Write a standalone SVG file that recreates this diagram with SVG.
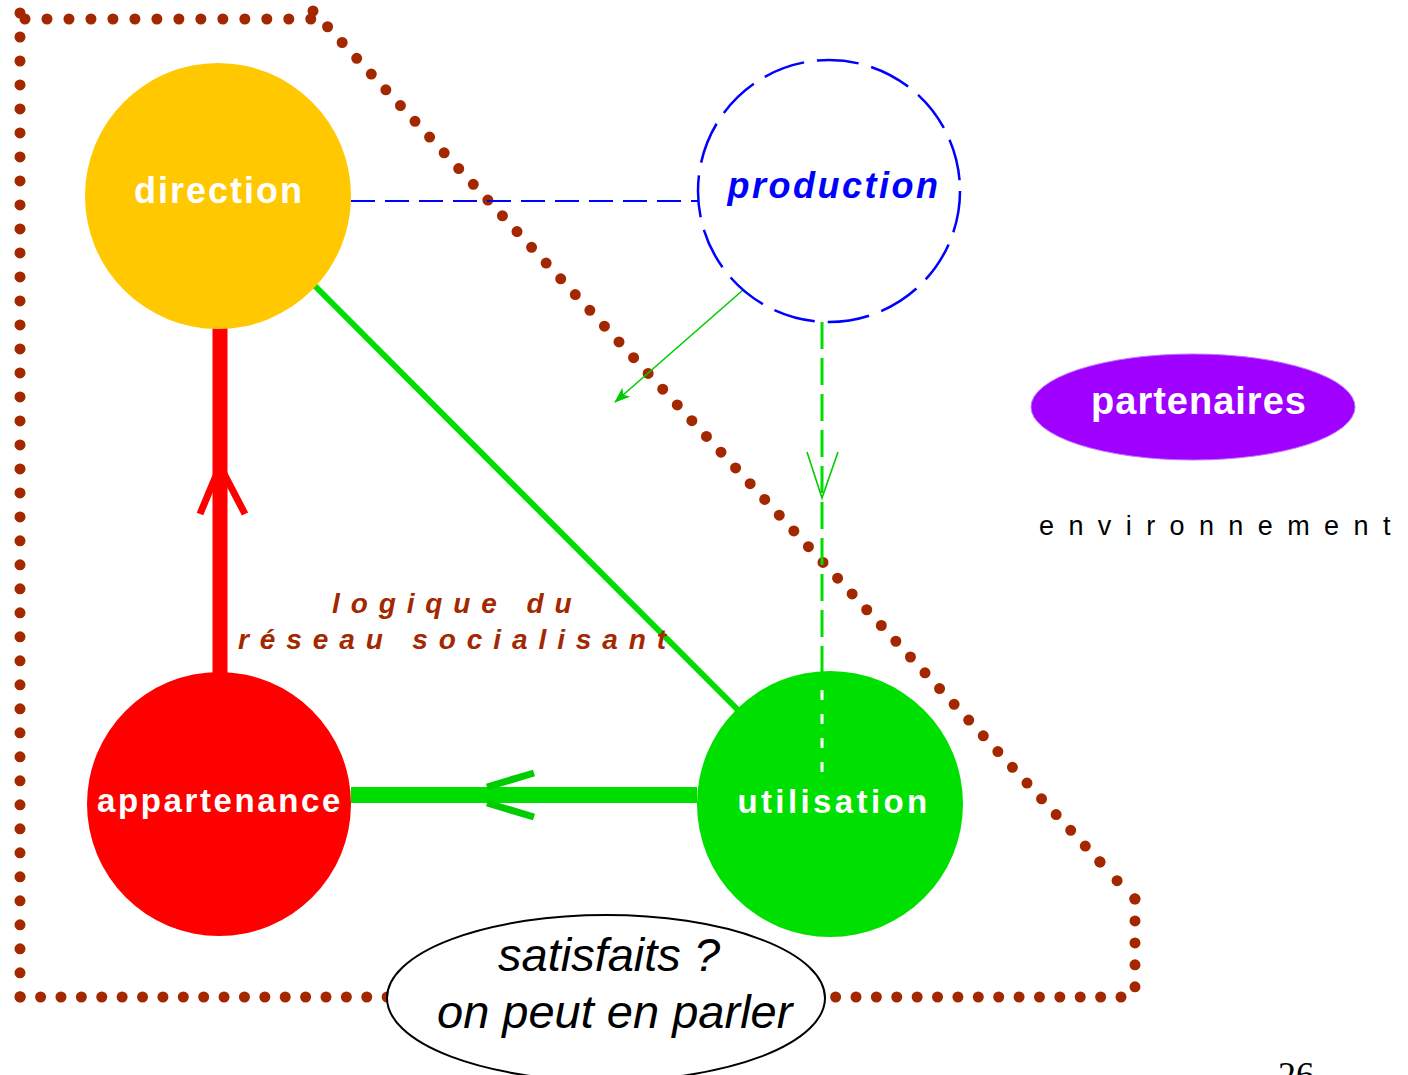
<svg xmlns="http://www.w3.org/2000/svg" width="1408" height="1075" viewBox="0 0 1408 1075">
<style>
.dot{fill:none;stroke:#a32800;stroke-width:11;stroke-linecap:round;stroke-dasharray:0 1}
.lbl{font-family:"Liberation Sans",Arial,sans-serif;font-weight:bold;fill:#fff;text-anchor:middle}
.brown{font-family:"Liberation Sans",Arial,sans-serif;font-weight:bold;font-style:italic;fill:#a32800;font-size:28px;letter-spacing:10.9px}
.ital{font-family:"Liberation Sans",Arial,sans-serif;font-style:italic;fill:#000;font-size:47px}
</style>
<defs>
<marker id="fill-arrow" markerWidth="16" markerHeight="12" refX="15" refY="6" orient="auto" markerUnits="userSpaceOnUse">
<path d="M0,0 L16,6 L0,12 L4,6 Z" fill="#00cc00"/>
</marker>
</defs>
<rect width="1408" height="1075" fill="#fff"/>
<g id="border">
<path class="dot" pathLength="41.01" d="M20,13 V997"/>
<path class="dot" pathLength="13.01" d="M25,19 H311"/>
<path class="dot" pathLength="54.01" d="M313,11 L1100,862"/>
<path class="dot" pathLength="2.01" d="M1100,862 L1121,885 L1135,899"/>
<path class="dot" pathLength="4.01" d="M1135,899 V987"/>
<path class="dot" pathLength="54.01" d="M1121,997 H20"/>
</g>
<g id="connectors">
<line x1="351" y1="201" x2="699" y2="201" stroke="#0000ff" stroke-width="2.2" stroke-dasharray="24 10"/>
<line x1="315" y1="286" x2="740" y2="712" stroke="#00dd00" stroke-width="6"/>
<line x1="220" y1="328" x2="220" y2="673" stroke="#ff0000" stroke-width="15"/>
<polyline points="200,514 220,466 245,514" fill="none" stroke="#ff0000" stroke-width="7"/>
<line x1="351" y1="795" x2="697" y2="795" stroke="#00dd00" stroke-width="16"/>
<line x1="487" y1="787" x2="534" y2="773" stroke="#00cc00" stroke-width="7"/>
<line x1="487" y1="803" x2="534" y2="817" stroke="#00cc00" stroke-width="7"/>
<line x1="743" y1="290" x2="615" y2="402" stroke="#00cc00" stroke-width="1.6" marker-end="url(#fill-arrow)"/>
<line x1="822" y1="322" x2="822" y2="690" stroke="#00dd00" stroke-width="3" stroke-dasharray="27 9"/>
<polyline points="807,452 822,498 838,452" fill="none" stroke="#00cc00" stroke-width="1.6"/>
</g>
<g id="direction">
<circle cx="218" cy="196" r="133" fill="#ffc800"/>
<text class="lbl" x="219" y="203" font-size="36" letter-spacing="2">direction</text>
</g>
<g id="production">
<circle cx="829" cy="191" r="131" fill="none" stroke="#0000ff" stroke-width="2.5" stroke-dasharray="42 13"/>
<text x="834" y="198" font-family="Liberation Sans, Arial, sans-serif" font-weight="bold" font-style="italic" font-size="36" letter-spacing="2.5" fill="#0000ff" text-anchor="middle">production</text>
</g>
<g id="appartenance">
<circle cx="219" cy="804" r="132" fill="#ff0000"/>
<text class="lbl" x="220" y="812" font-size="33" letter-spacing="2.6">appartenance</text>
</g>
<g id="utilisation">
<circle cx="830" cy="804" r="133" fill="#00e000"/>
<line x1="822" y1="690" x2="822" y2="772" stroke="#fff" stroke-width="3" stroke-dasharray="10 14"/>
<text class="lbl" x="834" y="813" font-size="33" letter-spacing="3.4">utilisation</text>
</g>
<g id="partenaires">
<ellipse cx="1193" cy="407" rx="162" ry="53" fill="#a000ff" stroke="#c070ff" stroke-width="1"/>
<text class="lbl" x="1199" y="414" font-size="38" letter-spacing="1">partenaires</text>
</g>
<g id="environnement">
<text x="1039" y="535" font-family="Liberation Sans, Arial, sans-serif" font-size="27" letter-spacing="14.4" fill="#000">environnement</text>
</g>
<g id="logique">
<text class="brown" x="332" y="613">logique du</text>
<text class="brown" x="238" y="649">réseau socialisant</text>
</g>
<g id="satisfaits">
<ellipse cx="606" cy="998" rx="219" ry="83" fill="#fff" stroke="#000" stroke-width="2"/>
<text class="ital" x="498" y="971">satisfaits ?</text>
<text class="ital" x="437" y="1028">on peut en parler</text>
</g>
<g id="page">
<text x="1278" y="1087" font-family="Liberation Serif, Times New Roman, serif" font-size="36" fill="#000">26</text>
</g>
</svg>
